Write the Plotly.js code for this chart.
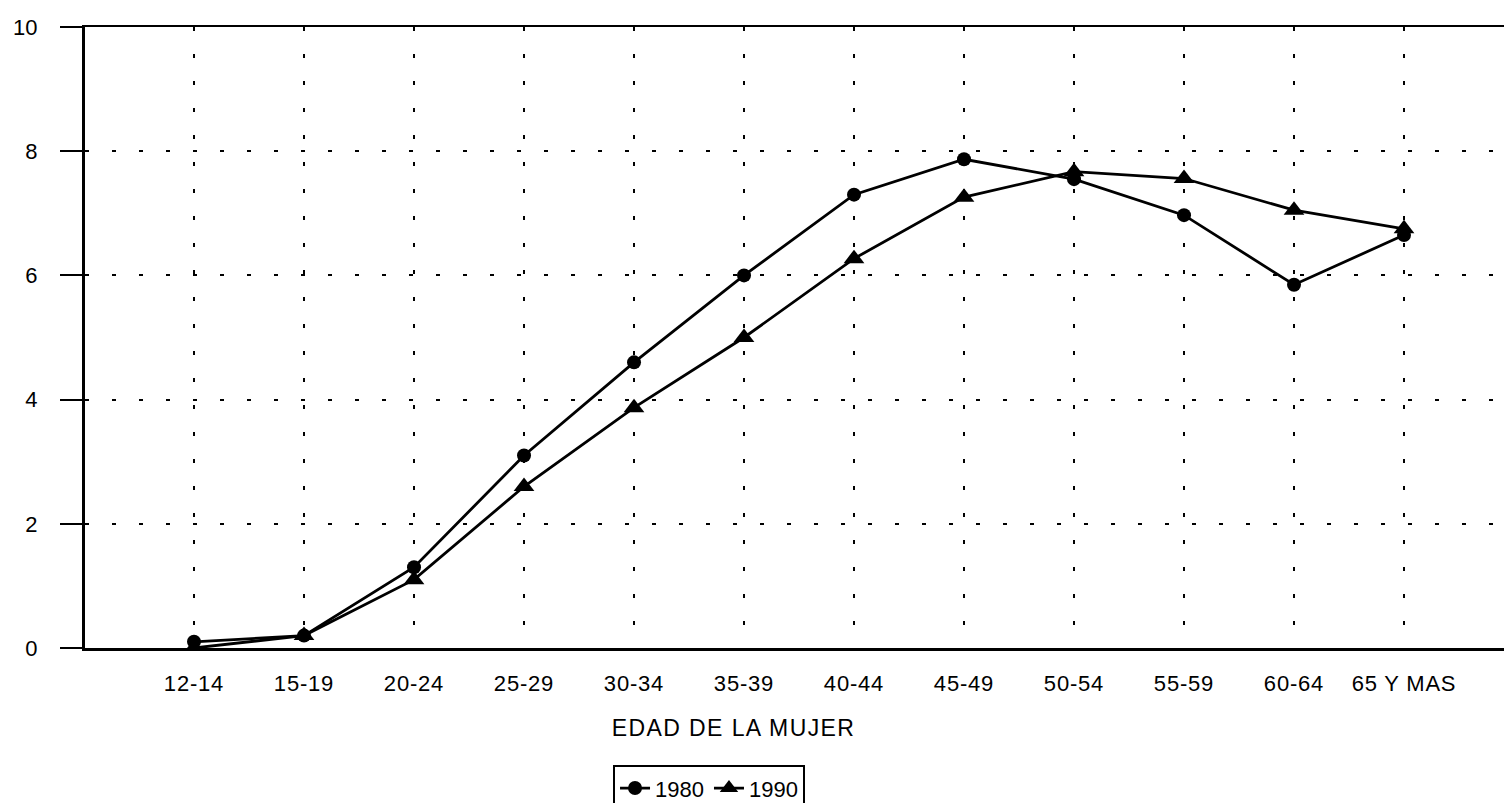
<!DOCTYPE html>
<html>
<head>
<meta charset="utf-8">
<script src="https://cdn.plot.ly/plotly-3.0.1.min.js"></script>
<style>
html,body{margin:0;padding:0;background:#fff;}
#chart{width:1504px;height:803px;}
#chart .annotation-text{letter-spacing:1.4px;}
#chart .xtick text{letter-spacing:0.8px;}
</style>
</head>
<body>
<div id="chart"></div>
<script>
const categories = ["12-14","15-19","20-24","25-29","30-34","35-39","40-44","45-49","50-54","55-59","60-64","65 Y MAS"];
const values1980 = [0.1, 0.2, 1.3, 3.1, 4.6, 6.0, 7.3, 7.87, 7.55, 6.97, 5.85, 6.65];
const values1990 = [0.0, 0.2, 1.1, 2.6, 3.87, 5.0, 6.27, 7.26, 7.67, 7.56, 7.05, 6.75];
const yTicks = [0, 2, 4, 6, 8, 10];
const xTitle = "EDAD DE LA MUJER";

const font = {family: "Liberation Sans, Arial, sans-serif", size: 22, color: "#000"};

const traces = [
  {x: categories, y: values1980, name: "1980", type: "scatter", mode: "lines+markers",
   line: {color: "#000", width: 2.8}, marker: {symbol: "circle", size: 14, color: "#000"}},
  {x: categories, y: values1990, name: "1990", type: "scatter", mode: "lines+markers",
   line: {color: "#000", width: 2.8}, marker: {symbol: "triangle-up", size: 18, color: "#000"}}
];

const layout = {
  width: 1504, height: 803,
  margin: {l: 85, r: 0, t: 27, b: 155, autoexpand: false},
  paper_bgcolor: "#fff", plot_bgcolor: "#fff",
  font: font,
  showlegend: true,
  legend: {orientation: "h", xref: "container", yref: "container",
    x: 0.4076, xanchor: "left", y: 0.047, yanchor: "top",
    bordercolor: "#000", borderwidth: 2, bgcolor: "#fff",
    font: {family: font.family, size: 22, color: "#000"},
    itemwidth: 30, tracegroupgap: 0},
  xaxis: {
    type: "category", range: [-0.991, 11.909],
    showline: true, linecolor: "#000", linewidth: 2.5, mirror: true,
    showgrid: true, gridcolor: "#000", gridwidth: 2, griddash: "4px,23px",
    ticks: "", ticklabelstandoff: 14, tickfont: font,
    zeroline: false, fixedrange: true
  },
  yaxis: {
    range: [0, 10], tickvals: yTicks, ticktext: yTicks.map(String),
    showline: true, linecolor: "#000", linewidth: 3,
    showgrid: true, gridcolor: "#000", gridwidth: 2, griddash: "4px,23px",
    ticks: "outside", ticklen: 22, tickwidth: 2, tickcolor: "#000",
    ticklabelstandoff: 18,
    tickfont: font, zeroline: false, fixedrange: true
  },
  annotations: [{
    text: xTitle, xref: "paper", yref: "paper", x: 0.4567, y: -0.129, xanchor: "center", yanchor: "middle",
    showarrow: false, font: {family: font.family, size: 23, color: "#000"}
  }]
};

Plotly.newPlot("chart", traces, layout, {displayModeBar: false, staticPlot: true});
</script>
</body>
</html>
